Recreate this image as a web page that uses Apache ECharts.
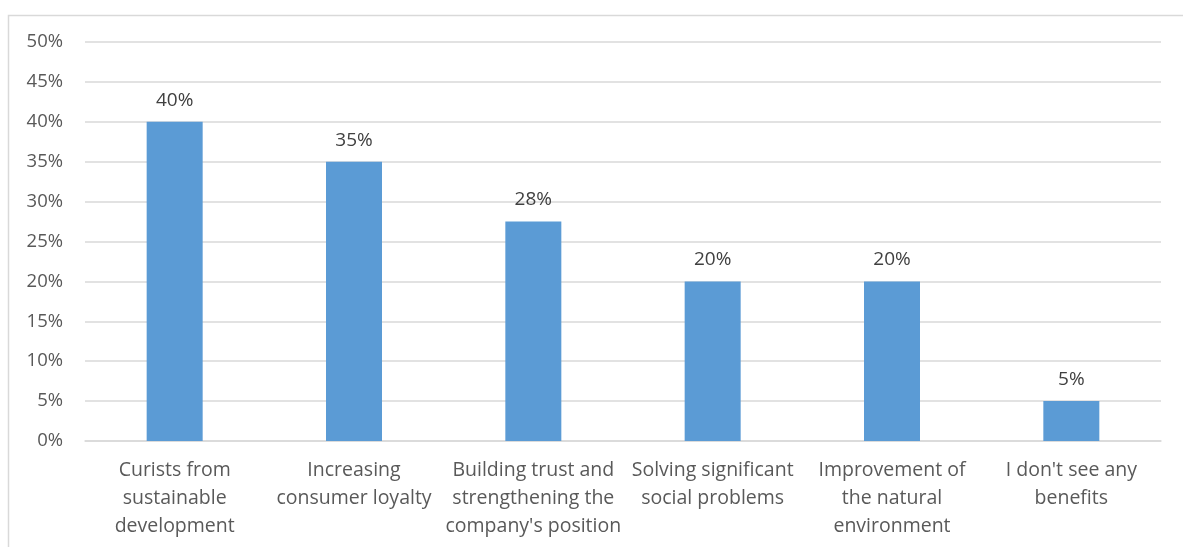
<!DOCTYPE html>
<html>
<head>
<meta charset="utf-8">
<script src="https://cdn.jsdelivr.net/npm/echarts@6/dist/echarts.min.js"></script>
<style>
  html, body { margin: 0; padding: 0; background: #fff; }
  #chart { width: 1183px; height: 547px; }
</style>
</head>
<body>
<div id="chart"></div>
<script>
// Survey answers: perceived benefits of sustainable development
const categories = [
  'Curists from\nsustainable\ndevelopment',
  'Increasing\nconsumer loyalty',
  'Building trust and\nstrengthening the\ncompany\'s position',
  'Solving significant\nsocial problems',
  'Improvement of\nthe natural\nenvironment',
  'I don\'t see any\nbenefits'
];
const shares = [40, 35, 27.5, 20, 20, 5];
const yTicks = { min: 0, max: 50, step: 5 };

const FONT = '"Open Sans", "Liberation Sans", Arial, sans-serif';
const chart = echarts.init(document.getElementById('chart'), null, { renderer: 'canvas' });

chart.setOption({
  animation: false,
  backgroundColor: '#fff',
  graphic: [{
    type: 'rect',
    shape: { x: 8.5, y: 15.5, width: 1200, height: 600 },
    style: { fill: 'none', stroke: '#d9d9d9', lineWidth: 1.5 },
    silent: true
  }],
  grid: { left: 85, right: 22, top: 42, bottom: 106, containLabel: false },
  xAxis: {
    type: 'category',
    data: categories,
    axisLine: { show: true, lineStyle: { color: '#d9d9d9', width: 1.5 } },
    axisTick: { show: false },
    axisLabel: {
      color: '#595959', fontFamily: FONT, fontSize: 19.5, lineHeight: 28,
      margin: 15, interval: 0
    }
  },
  yAxis: {
    type: 'value',
    min: yTicks.min, max: yTicks.max, interval: yTicks.step,
    axisLine: { show: false },
    axisTick: { show: false },
    splitLine: { lineStyle: { color: '#d9d9d9', width: 1.5 } },
    axisLabel: {
      color: '#595959', fontFamily: FONT, fontSize: 18.5, margin: 22,
      formatter: v => v + '%'
    }
  },
  series: [{
    type: 'bar',
    data: shares,
    barWidth: 56,
    itemStyle: { color: '#5b9bd5' },
    label: {
      show: true, position: 'top', distance: 12,
      color: '#404040', fontFamily: FONT, fontSize: 19,
      formatter: p => Math.round(p.value) + '%'
    }
  }]
});
</script>
</body>
</html>
